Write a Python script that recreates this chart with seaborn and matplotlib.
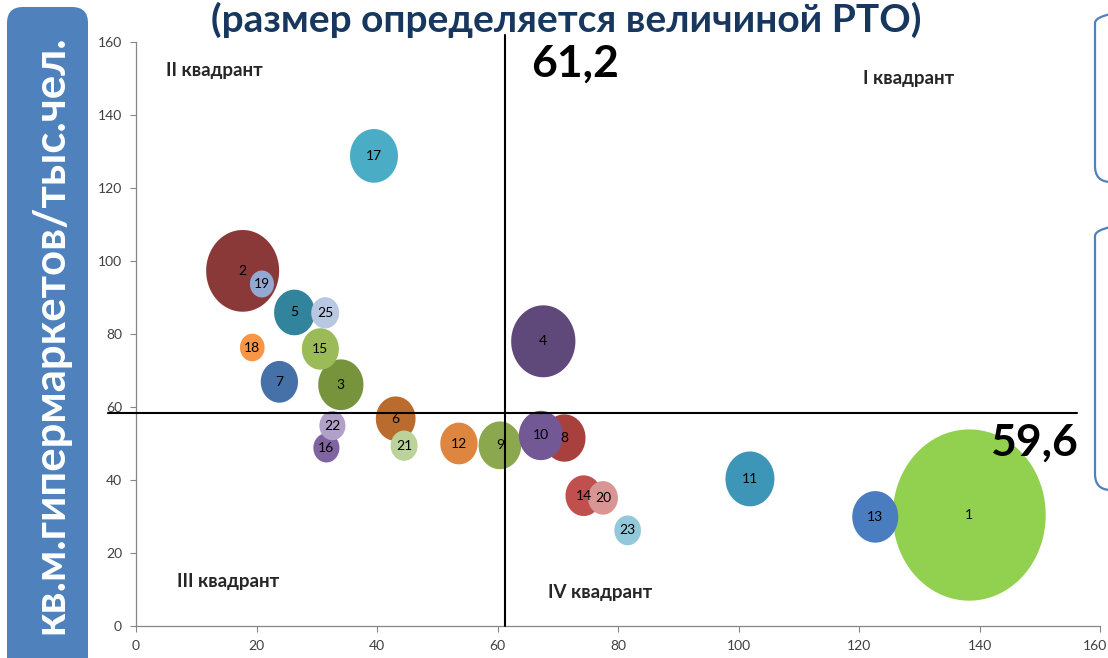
import numpy as np
import pandas as pd
import matplotlib
matplotlib.use("Agg")
import matplotlib.pyplot as plt
import matplotlib.transforms as mtransforms
from matplotlib.path import Path
from matplotlib.patches import FancyBboxPatch
import seaborn as sns

# ---------------- data ----------------
region_ids = [1, 2, 3, 4, 5, 6, 7, 8, 9, 10, 11, 12, 13, 14, 15, 16, 17, 18,
              19, 20, 21, 22, 23, 25]
x_values = [138.3, 17.7, 34.0, 67.6, 26.3, 43.1, 23.8, 71.1, 60.4, 67.2, 101.9,
            53.6, 122.7, 74.3, 30.6, 31.6, 39.5, 19.3, 20.9, 77.5, 44.5, 32.6,
            81.6, 31.4]
y_values = [30.4, 97.3, 66.1, 78.0, 85.9, 56.8, 66.9, 51.5, 49.5, 52.2, 40.3,
            50.0, 29.9, 35.7, 75.9, 48.8, 128.8, 76.3, 93.7, 35.1, 49.4, 54.9,
            26.2, 85.8]
rto_values = [234, 53.3, 20.5, 41.3, 16.6, 15.8, 13.9, 17.9, 18.2, 19.4, 24.0,
              13.9, 21.2, 13.2, 13.7, 6.8, 23.0, 6.1, 5.8, 9.0, 7.3, 6.8, 7.1,
              7.8]
bubble_colors = ["#92D050", "#8B3838", "#77933C", "#5F497A", "#31849B",
                 "#BA6C2E", "#4670A8", "#A8413E", "#8BA84E", "#725895",
                 "#3D96B8", "#DE8640", "#4A7DC0", "#C0504D", "#9BBB59",
                 "#8064A2", "#4BACC6", "#F79646", "#93A9D3", "#D99594",
                 "#BBD39A", "#B1A0C7", "#93C8DA", "#B8C7E2"]

vline_x = 61.2
hline_y = 58.3
vline_label = "61,2"
hline_label = "59,6"
title_text = "(размер определяется величиной РТО)"
ylabel_text = "кв.м.гипермаркетов/тыс.чел."
quadrant_labels = ["I квадрант", "II квадрант", "III квадрант", "IV квадрант"]
ticks = [0, 20, 40, 60, 80, 100, 120, 140, 160]

df = pd.DataFrame({"id": [str(i) for i in region_ids], "x": x_values,
                   "y": y_values, "rto": rto_values})
palette = dict(zip(df["id"], bubble_colors))

# ---------------- style ----------------
sns.set_style("white")
plt.rcParams["font.family"] = ["Lato", "DejaVu Sans"]

W, H = 1108, 658
fig = plt.figure(figsize=(W / 100, H / 100), dpi=100)
ax = fig.add_axes([136 / W, 1 - 626 / H, (1100 - 136) / W, (626 - 42) / H])

theta = np.linspace(0, 2 * np.pi, 97)
ellipse = Path(np.column_stack([np.cos(theta), 1.12 * np.sin(theta)]), closed=True)

max_rto = max(rto_values)
sns.scatterplot(data=df, x="x", y="y", hue="id", palette=palette,
                size="rto", sizes=(0, 65 * max_rto), size_norm=(0, max_rto),
                marker=ellipse, linewidth=0, legend=False, ax=ax, zorder=2)

for rid, xv, yv in zip(region_ids, x_values, y_values):
    ax.text(xv, yv, str(rid), ha="center", va="center", fontsize=10,
            color="black", zorder=5)

ax.set_xlim(0, 160)
ax.set_ylim(0, 160)
ax.set_xticks(ticks)
ax.set_yticks(ticks)
ax.set_xlabel("")
ax.set_ylabel("")
ax.tick_params(axis="both", labelsize=10, colors="#404040", length=4,
               width=0.8, direction="out", pad=6)
ax.tick_params(axis="both", color="#868686")
ax.xaxis.set_ticks_position("bottom")
ax.yaxis.set_ticks_position("left")
for s in ["top", "right"]:
    ax.spines[s].set_visible(False)
for s in ["left", "bottom"]:
    ax.spines[s].set_color("#868686")
    ax.spines[s].set_linewidth(0.9)

# keep the last x tick label inside the canvas
last_lab = ax.get_xticklabels()[-1]
last_lab.set_transform(last_lab.get_transform() +
                       mtransforms.ScaledTranslation(-0.05, 0, fig.dpi_scale_trans))

# quadrant lines
ax.plot([vline_x, vline_x], [0, 161.8], color="black", lw=1.5,
        clip_on=False, zorder=3)
ax.plot([-4.6, 156.2], [hline_y, hline_y], color="black", lw=1.5,
        clip_on=False, zorder=3)

ax.text(72.9, 154.0, vline_label, ha="center", va="center", fontsize=32,
        fontweight="bold", color="black", zorder=6)
ax.text(149.1, 50.3, hline_label, ha="center", va="center", fontsize=32,
        fontweight="bold", color="black", zorder=6)

ax.text(120.7, 150.1, quadrant_labels[0], ha="left", va="center",
        fontsize=13.5, fontweight="bold")
ax.text(4.9, 152.1, quadrant_labels[1], ha="left", va="center",
        fontsize=13.5, fontweight="bold")
ax.text(6.8, 12.1, quadrant_labels[2], ha="left", va="center",
        fontsize=13.5, fontweight="bold")
ax.text(68.4, 9.3, quadrant_labels[3], ha="left", va="center",
        fontsize=13.5, fontweight="bold")

# title
fig.text(566 / W, 1 - 32 / H, title_text, ha="center", va="baseline",
         fontsize=28, fontweight="bold", color="#17375E")

# y-label box
box = FancyBboxPatch((0.07, -1.0), 0.81, 7.51,
                     boxstyle="round,pad=0,rounding_size=0.16",
                     transform=fig.dpi_scale_trans, facecolor="#4F81BD",
                     edgecolor="none", zorder=0)
fig.patches.append(box)
fig.text(50 / W, 1 - 335 / H, ylabel_text, rotation=90, ha="center",
         va="center", fontsize=31.5, fontweight="bold", color="white")

# right side boxes (cut off)
for top_px, bot_px in [(7, 182), (220, 490)]:
    rb = FancyBboxPatch((10.95, (H - bot_px) / 100), 1.5,
                        (bot_px - top_px) / 100,
                        boxstyle="round,pad=0,rounding_size=0.16",
                        transform=fig.dpi_scale_trans, facecolor="none",
                        edgecolor="#4F81BD", linewidth=1.6, zorder=0)
    fig.patches.append(rb)

fig.savefig("out.png", dpi=100)
